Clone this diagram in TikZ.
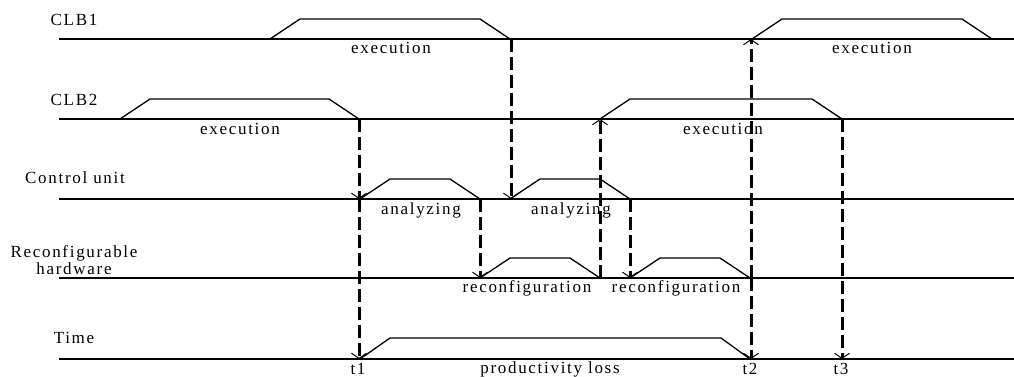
\documentclass[tikz,border=0pt]{standalone}
\usepackage{fontspec}
\setmainfont{Liberation Serif}[LetterSpace=10]
\usepackage{tikz}
\usetikzlibrary{arrows.meta}
\tikzset{
	wave/.style={line width=0.65pt},
	lbl/.style={inner sep=0pt, font=\fontsize{8.5}{8.5}\selectfont},
	rowname/.style={lbl, align=center},
	event/.style={line width=1.5pt, dash pattern=on 6.5pt off 2.5pt, -{Straight Barb[length=2.6pt,width=7.5pt,line width=0.5pt]}},
}

\begin{document}
\begin{tikzpicture}[x=0.5pt,y=-0.5pt]
\useasboundingbox (0,0) rectangle (1014,376);
% rows
\node (clb1) [rowname] at (74,20) {CLB1};
\node (clb2) [rowname] at (74,100) {CLB2};
\node (cu) [rowname] at (75,178) {Control unit};
\node (rh) [rowname] at (74,260) {Reconfigurable\\hardware};
\node (time) [rowname] at (74,338) {Time};
\foreach \y in {39,119,199,278,359}
\draw [wave] (59,\y) -- (1014,\y);
% pulses
\foreach \a/\b/\y in {270/510/39,752/992/39,120/359/119,600/842/119,360/480/199,510/630/199,480/600/278,630/750/278}
\draw [wave] (\a,\y) -- ++(30,-20) -- (\b-30,\y-20) -- (\b,\y);
\draw [wave] (360,359) -- ++(30,-21) -- (721,338) -- (750,359);
% labels
\node (ex1) [lbl] at (391,48) {execution};
\node (ex2) [lbl] at (872,48) {execution};
\node (ex3) [lbl] at (240,129) {execution};
\node (ex4) [lbl] at (723,129) {execution};
\node (an1) [lbl] at (421,210) {analyzing};
\node (an2) [lbl] at (571,210) {analyzing};
\node (rc1) [lbl] at (527,288) {reconfiguration};
\node (rc2) [lbl] at (676,288) {reconfiguration};
\node (loss) [lbl] at (550,369) {productivity loss};
\node (lt1) [lbl] at (358,369) {t1};
\node (lt2) [lbl] at (750,369) {t2};
\node (lt3) [lbl] at (841,369) {t3};
% events
\coordinate (c2end) at (359,119);
\coordinate (cuA) at (359,199);
\coordinate (t1) at (359,359);
\coordinate (cuAend) at (480,199);
\coordinate (rhA) at (480,278);
\coordinate (c1end) at (511,39);
\coordinate (cuB) at (511,199);
\coordinate (rhAend) at (600,278);
\coordinate (c2B) at (600,119);
\coordinate (cuBend) at (630,199);
\coordinate (rhB) at (630,278);
\coordinate (rhBend) at (751,278);
\coordinate (t2) at (751,359);
\coordinate (c1B) at (751,39);
\coordinate (c2Bend) at (842,119);
\coordinate (t3) at (842,359);
\foreach \i/\j in {c2end/cuA,cuA/t1,cuAend/rhA,c1end/cuB,rhAend/c2B,cuBend/rhB,rhBend/t2,rhBend/c1B,c2Bend/t3}
\draw [event] (\i) -- (\j);
\end{tikzpicture}
\end{document}
